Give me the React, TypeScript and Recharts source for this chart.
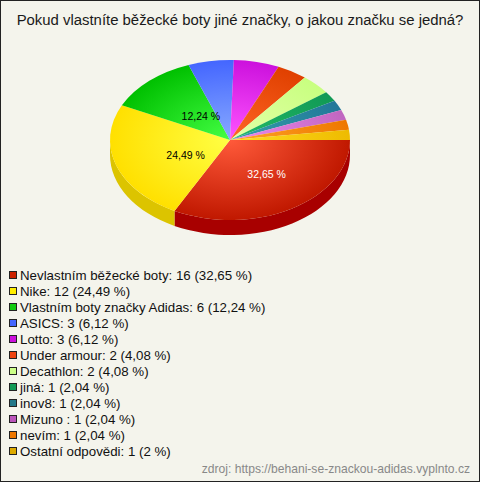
import { PieChart, Pie, Cell } from 'recharts';

const brands = [
  'Nevlastním běžecké boty',
  'Nike',
  'Vlastním boty značky Adidas',
  'ASICS',
  'Lotto',
  'Under armour',
  'Decathlon',
  'jiná',
  'inov8',
  'Mizuno ',
  'nevím',
  'Ostatní odpovědi',
];
const counts = [16, 12, 6, 3, 3, 2, 2, 1, 1, 1, 1, 1];
const shares = ['32,65', '24,49', '12,24', '6,12', '6,12', '4,08', '4,08', '2,04', '2,04', '2,04', '2,04', '2'];

// legend swatch, face centre, face rim, side wall
const swatch = ['#cc2200', '#ffee00', '#11cc11', '#4466ff', '#cc11dd', '#ee4411', '#ccff88', '#119955', '#227788', '#bb55bb', '#ee7700', '#ddaa00'];
const light = ['#ff5a3a', '#ffff44', '#44ff44', '#88aaff', '#ff55ff', '#ff6626', '#e4ffa8', '#22bb66', '#33a0aa', '#ee88ee', '#ffa526', '#ffdd22'];
const dark = ['#c01800', '#ffe000', '#00c000', '#4466ff', '#cc11dd', '#e04000', '#c8ff80', '#119955', '#227799', '#c066c0', '#ee7700', '#eebb00'];
const sideColor = ['#a80000', '#dcc400', '#00a000', '#3355dd', '#aa00bb', '#bb3300', '#aadd66', '#007744', '#115566', '#994499', '#cc5500', '#cc9900'];

const data = brands.map((name, i) => ({ name, value: counts[i] }));

const CX = 230;
const CY = 140;
const RX = 120;
const SQUASH = 2 / 3;
const DEPTH = 15;

function pt(cx: number, cy: number, rx: number, ry: number, deg: number) {
  const r = (deg * Math.PI) / 180;
  return [cx + rx * Math.cos(r), cy - ry * Math.sin(r)];
}

function Slice(props: any) {
  const { cx, cy, outerRadius, startAngle, endAngle, index } = props;
  const rx = outerRadius;
  const ry = outerRadius * SQUASH;
  const hi = Math.max(startAngle, endAngle);
  const lo = Math.min(startAngle, endAngle);
  const [x1, y1] = pt(cx, cy, rx, ry, hi);
  const [x2, y2] = pt(cx, cy, rx, ry, lo);
  const large = hi - lo > 180 ? 1 : 0;
  const top = `M${cx},${cy} L${x1},${y1} A${rx},${ry} 0 ${large} 1 ${x2},${y2} Z`;

  // front wall, visible between -180 and 0 degrees
  const sHi = Math.min(hi, 0);
  const sLo = Math.max(lo, -180);
  let side = null;
  if (sHi > sLo) {
    const [a1, b1] = pt(cx, cy, rx, ry, sHi);
    const [a2, b2] = pt(cx, cy, rx, ry, sLo);
    side = `M${a1},${b1} A${rx},${ry} 0 0 1 ${a2},${b2} L${a2},${b2 + DEPTH} A${rx},${ry} 0 0 0 ${a1},${b1 + DEPTH} Z`;
  }
  return (
    <g>
      {side && <path d={side} fill={sideColor[index]} stroke="none" />}
      <path d={top} fill={`url(#face${index})`} stroke="none" />
    </g>
  );
}

function renderLabel(props: any) {
  const { cx, cy, midAngle, outerRadius, percent, index } = props;
  if (percent < 0.1) return null;
  const [x, y] = pt(cx, cy, outerRadius * 0.46, outerRadius * 0.46 * SQUASH, midAngle);
  return (
    <text
      x={x + 8}
      y={y + 3}
      textAnchor="middle"
      dominantBaseline="central"
      fontSize={10.5}
      fontFamily="'Liberation Sans', Arial, sans-serif"
      fill={index === 0 ? '#ffffff' : '#000000'}
    >
      {shares[index]} %
    </text>
  );
}

export default function App() {
  return (
    <div
      style={{
        position: 'fixed',
        top: 0,
        left: 0,
        width: 480,
        height: 482,
        background: '#f4f4ec',
        fontFamily: "'Liberation Sans', Arial, sans-serif",
        overflow: 'hidden',
      }}
    >
      <div
        style={{
          position: 'absolute',
          top: 10,
          left: 0,
          width: 480,
          textAlign: 'center',
          fontSize: 14.9,
          lineHeight: '20px',
          color: '#1a1a1a',
        }}
      >
        Pokud vlastníte běžecké boty jiné značky, o jakou značku se jedná?
      </div>

      <div style={{ position: 'absolute', top: 0, left: 0 }}>
        <PieChart width={480} height={260} margin={{ top: 0, right: 0, bottom: 0, left: 0 }}>
          <defs>
            {light.map((c, i) => (
              <radialGradient
                key={i}
                id={`face${i}`}
                gradientUnits="userSpaceOnUse"
                cx={CX}
                cy={CY}
                r={RX}
                gradientTransform={`translate(${CX},${CY}) scale(1,${SQUASH}) translate(${-CX},${-CY})`}
              >
                <stop offset="0%" stopColor={c} />
                <stop offset="100%" stopColor={dark[i]} />
              </radialGradient>
            ))}
          </defs>
          <Pie
            data={data}
            dataKey="value"
            nameKey="name"
            cx={CX}
            cy={CY}
            outerRadius={RX}
            startAngle={0}
            endAngle={-360}
            stroke="none"
            shape={Slice}
            activeShape={Slice}
            inactiveShape={Slice}
            label={renderLabel}
            labelLine={false}
            isAnimationActive={false}
          >
            {data.map((d, i) => (
              <Cell key={d.name} fill={swatch[i]} />
            ))}
          </Pie>
        </PieChart>
      </div>

      {brands.map((b, i) => (
        <div
          key={b}
          style={{
            position: 'absolute',
            top: 267 + i * 16,
            left: 9,
            height: 16,
            display: 'flex',
            alignItems: 'center',
            fontSize: 13.3,
            color: '#111',
            whiteSpace: 'pre',
          }}
        >
          <span
            style={{
              width: 6,
              height: 6,
              border: '1px solid #222',
              background: swatch[i],
              marginRight: 3,
              flex: 'none',
            }}
          />
          {`${b}: ${counts[i]} (${shares[i]} %)`}
        </div>
      ))}

      <div
        style={{
          position: 'absolute',
          top: 461,
          right: 10,
          fontSize: 12.1,
          lineHeight: '16px',
          color: '#888',
        }}
      >
        zdroj: https://behani-se-znackou-adidas.vyplnto.cz
      </div>

      <div
        style={{
          position: 'absolute',
          inset: 0,
          border: '1px solid #222',
          pointerEvents: 'none',
        }}
      />
    </div>
  );
}
